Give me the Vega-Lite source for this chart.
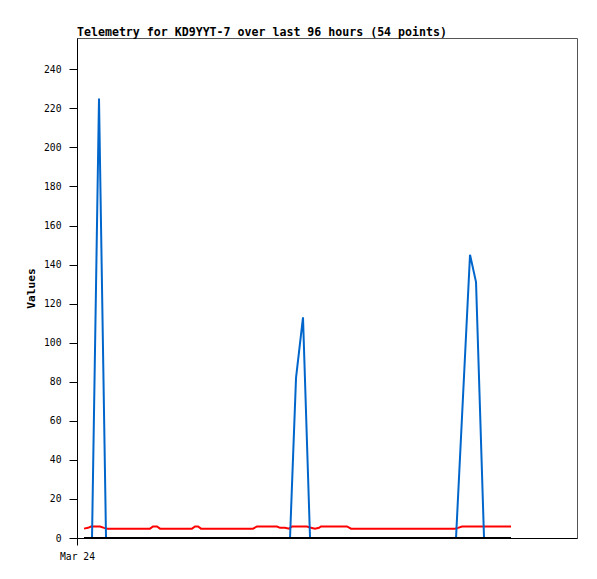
{
  "$schema": "https://vega.github.io/schema/vega-lite/v6.json",
  "width": 500,
  "height": 500,
  "autosize": {"type": "none"},
  "padding": {"left": 77, "top": 38, "right": 20, "bottom": 41},
  "background": "white",
  "config": {
    "view": {"stroke": "#555555", "strokeWidth": 1},
    "font": "DejaVu Sans Mono",
    "axis": {"labelFont": "DejaVu Sans Mono", "titleFont": "DejaVu Sans Mono", "labelColor": "black", "titleColor": "black", "domainColor": "black", "tickColor": "black", "grid": false}
  },
  "title": {
    "text": "Telemetry for KD9YYT-7 over last 96 hours (54 points)",
    "anchor": "start",
    "frame": "group",
    "font": "DejaVu Sans Mono",
    "fontSize": 11.6,
    "fontWeight": "bold",
    "color": "black",
    "offset": -1
  },
  "datasets": {
    "blue": [
      {"h": 1.58, "v": 0}, {"h": 3.38, "v": 0}, {"h": 4.95, "v": 225}, {"h": 6.53, "v": 0},
      {"h": 47.93, "v": 0}, {"h": 49.28, "v": 82}, {"h": 50.85, "v": 113}, {"h": 52.43, "v": 0},
      {"h": 85.28, "v": 0}, {"h": 88.43, "v": 145}, {"h": 89.78, "v": 131}, {"h": 91.58, "v": 0},
      {"h": 97.65, "v": 0}
    ],
    "red": [
      {"h": 1.58, "v": 4.8}, {"h": 2.48, "v": 5.2}, {"h": 3.15, "v": 5.9}, {"h": 5.18, "v": 5.9},
      {"h": 6.08, "v": 5.2}, {"h": 6.75, "v": 4.8}, {"h": 16.43, "v": 4.8}, {"h": 17.1, "v": 5.9},
      {"h": 18.0, "v": 5.9}, {"h": 18.68, "v": 4.8}, {"h": 25.88, "v": 4.8}, {"h": 26.55, "v": 5.9},
      {"h": 27.23, "v": 5.9}, {"h": 27.9, "v": 4.8}, {"h": 39.6, "v": 4.8}, {"h": 40.5, "v": 5.9},
      {"h": 45.0, "v": 5.9}, {"h": 45.68, "v": 5.2}, {"h": 46.8, "v": 5.2}, {"h": 47.7, "v": 4.8},
      {"h": 48.38, "v": 5.9}, {"h": 51.75, "v": 5.9}, {"h": 52.65, "v": 5.2}, {"h": 53.55, "v": 4.8},
      {"h": 54.45, "v": 5.2}, {"h": 54.9, "v": 5.9}, {"h": 60.75, "v": 5.9}, {"h": 61.65, "v": 4.8},
      {"h": 85.05, "v": 4.8}, {"h": 85.73, "v": 5.2}, {"h": 86.63, "v": 5.9}, {"h": 97.65, "v": 5.9}
    ],
    "black": [
      {"h": 1.58, "v": 0}, {"h": 97.65, "v": 0}
    ]
  },
  "encoding": {
    "x": {
      "field": "h", "type": "quantitative",
      "scale": {"domain": [0, 112.5], "nice": false, "zero": false},
      "axis": {"title": null, "values": [0], "labelExpr": "'Mar 24'", "tickSize": 7, "labelPadding": 6, "labelFontSize": 9.7, "labelFlush": false}
    },
    "y": {
      "field": "v", "type": "quantitative",
      "scale": {"domain": [0, 256], "nice": false},
      "axis": {"title": "Values", "values": [0, 20, 40, 60, 80, 100, 120, 140, 160, 180, 200, 220, 240], "tickSize": 8, "labelPadding": 8, "labelFontSize": 9.7, "titleFontSize": 11.2, "titleFontWeight": "bold", "titlePadding": 7}
    }
  },
  "layer": [
    {"data": {"name": "red"}, "mark": {"type": "line", "color": "#ff0000", "strokeWidth": 2}},
    {"data": {"name": "blue"}, "mark": {"type": "line", "color": "#0066cc", "strokeWidth": 2}},
    {"data": {"name": "black"}, "mark": {"type": "line", "color": "#000000", "strokeWidth": 2}}
  ]
}
